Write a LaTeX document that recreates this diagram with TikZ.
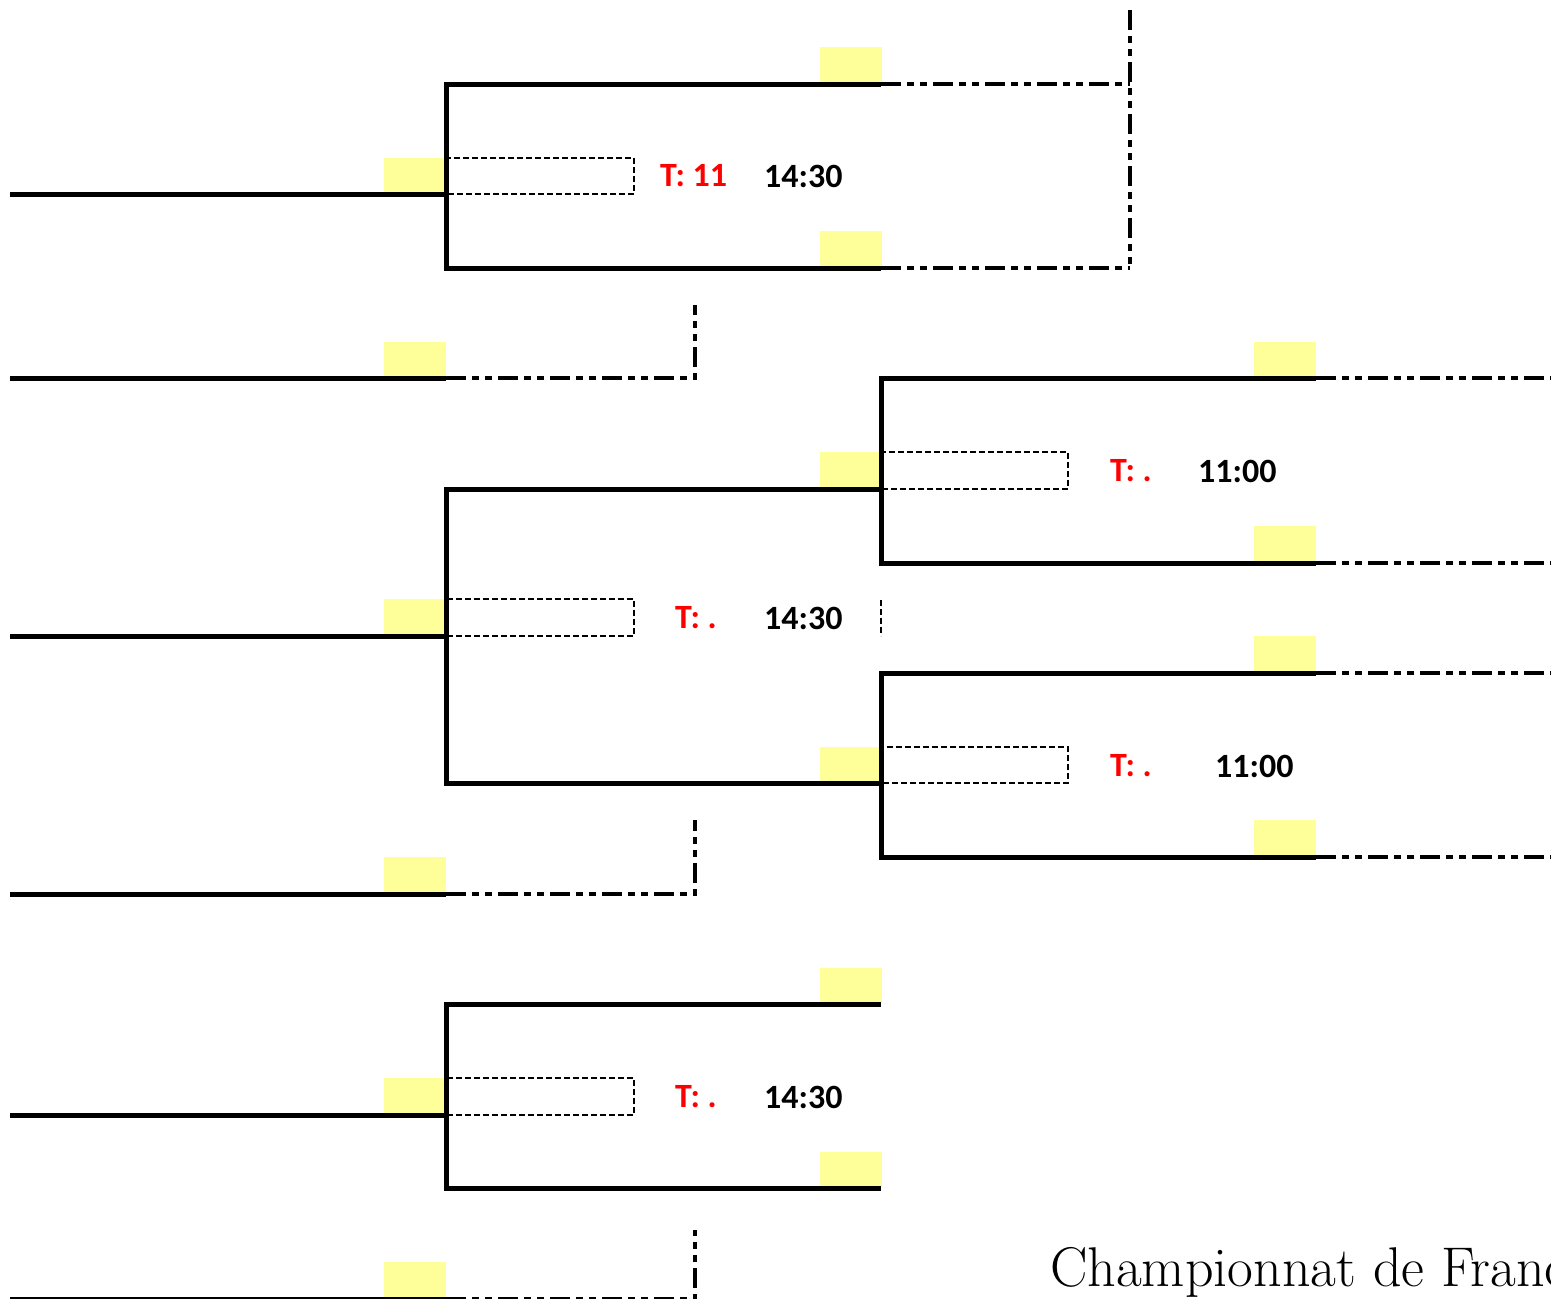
\documentclass[tikz,border=0pt]{standalone}
\usepackage{fontspec}
\newfontfamily\labfont{Carlito}
\definecolor{slot}{RGB}{255,255,153}
\definecolor{tred}{RGB}{255,0,0}
\tikzset{
  solidline/.style={line width=5pt, line join=miter},
  dashdot/.style={line width=3.2pt, dash pattern=on 20pt off 6pt on 7pt off 6pt on 7pt off 6pt},
  slotbox/.style={fill=slot, draw=none},
  dashbox/.style={line width=2.8pt, dash pattern=on 6pt off 3pt},
  tlabel/.style={anchor=west, inner sep=0pt, text=tred, font=\labfont\bfseries\fontsize{34}{40}\selectfont},
  hlabel/.style={anchor=west, inner sep=0pt, text=black, font=\labfont\bfseries\fontsize{34}{40}\selectfont},
}
\begin{document}
\begin{tikzpicture}[x=1pt, y=-1pt]
\useasboundingbox (0,0) rectangle (1551,1299);
\clip (0,0) rectangle (1551,1299);

% ---------- yellow slots ----------
\foreach \x/\y in {384/158, 384/342, 384/599, 384/857, 384/1078, 384/1262,
                   820/47, 820/231, 820/452, 820/747, 820/968, 820/1152,
                   1254/342, 1254/526, 1254/636, 1254/820}
  \fill[slotbox] (\x,\y) rectangle ++(62,35);

% ---------- match 1 (top) ----------
\coordinate (m1in) at (10,194);
\coordinate (m1j) at (446,194);
\coordinate (m1t) at (881,84);
\coordinate (m1b) at (881,268);
\coordinate (m1tc) at (1130,84);
\coordinate (m1bc) at (1130,268);
\coordinate (m1top) at (1130,10);
\draw[solidline] (m1in) -- (m1j);
\draw[solidline] (m1t) -- (446,84) -- (446,268) -- (m1b);
\draw[dashbox] (448,158) rectangle (634,194);
\node[tlabel] (t1) at (660,176) {T: 11};
\node[hlabel] (h1) at (764,176) {14:30};
\draw[dashdot] (m1t) -- (m1tc);
\draw[dashdot] (m1b) -- (m1bc);
\draw[dashdot] (m1top) -- (m1bc);

% ---------- bye line 2 ----------
\coordinate (b2in) at (10,378);
\coordinate (b2j) at (446,378);
\coordinate (b2c) at (695,378);
\coordinate (b2top) at (695,305);
\draw[solidline] (b2in) -- (b2j);
\draw[dashdot] (b2j) -- (b2c) -- (b2top);

% ---------- match 2 (middle) ----------
\coordinate (m2in) at (10,636);
\coordinate (m2j) at (446,636);
\coordinate (m2t) at (881,489);
\coordinate (m2b) at (881,783);
\draw[solidline] (m2in) -- (m2j);
\draw[solidline] (m2t) -- (446,489) -- (446,783) -- (m2b);
\draw[dashbox] (448,599) rectangle (634,636);
\node[tlabel] (t2) at (675,618) {T: .};
\node[hlabel] (h2) at (764,618) {14:30};
\draw[dashbox] (881,600) -- (881,636);

% ---------- match A (right upper) ----------
\coordinate (mat) at (1316,378);
\coordinate (mab) at (1316,563);
\draw[solidline] (mat) -- (881,378) -- (881,563) -- (mab);
\draw[dashbox] (883,452) rectangle (1068,489);
\node[tlabel] (ta) at (1110,471) {T: .};
\node[hlabel] (ha) at (1198,471) {11:00};
\coordinate (maet) at (1551,378);
\coordinate (maeb) at (1551,563);
\draw[dashdot] (mat) -- (maet);
\draw[dashdot] (mab) -- (maeb);

% ---------- match B (right lower) ----------
\coordinate (mbt) at (1316,673);
\coordinate (mbb) at (1316,857);
\draw[solidline] (mbt) -- (881,673) -- (881,857) -- (mbb);
\draw[dashbox] (883,747) rectangle (1068,783);
\node[tlabel] (tb) at (1110,766) {T: .};
\node[hlabel] (hb) at (1215,766) {11:00};
\coordinate (mbet) at (1551,673);
\coordinate (mbeb) at (1551,857);
\draw[dashdot] (mbt) -- (mbet);
\draw[dashdot] (mbb) -- (mbeb);

% ---------- bye line 4 ----------
\coordinate (b4in) at (10,894);
\coordinate (b4j) at (446,894);
\coordinate (b4c) at (695,894);
\coordinate (b4top) at (695,820);
\draw[solidline] (b4in) -- (b4j);
\draw[dashdot] (b4j) -- (b4c) -- (b4top);

% ---------- match 3 (bottom) ----------
\coordinate (m3in) at (10,1115);
\coordinate (m3j) at (446,1115);
\coordinate (m3t) at (881,1004);
\coordinate (m3b) at (881,1188);
\draw[solidline] (m3in) -- (m3j);
\draw[solidline] (m3t) -- (446,1004) -- (446,1188) -- (m3b);
\draw[dashbox] (448,1078) rectangle (634,1115);
\node[tlabel] (t3) at (675,1097) {T: .};
\node[hlabel] (h3) at (764,1097) {14:30};

% ---------- bye line 6 (cut by the lower edge) ----------
\coordinate (b6in) at (10,1299);
\coordinate (b6j) at (446,1299);
\coordinate (b6c) at (695,1299);
\coordinate (b6top) at (695,1230);
\draw[solidline] (b6in) -- (b6j);
\draw[dashdot] (b6j) -- (b6c) -- (b6top);

% ---------- title (cut by the right edge, as in the reference) ----------
\node[anchor=base west, inner sep=0pt, font=\fontsize{56}{64}\selectfont] (title) at (1050,1286) {Championnat de France};
\end{tikzpicture}
\end{document}
